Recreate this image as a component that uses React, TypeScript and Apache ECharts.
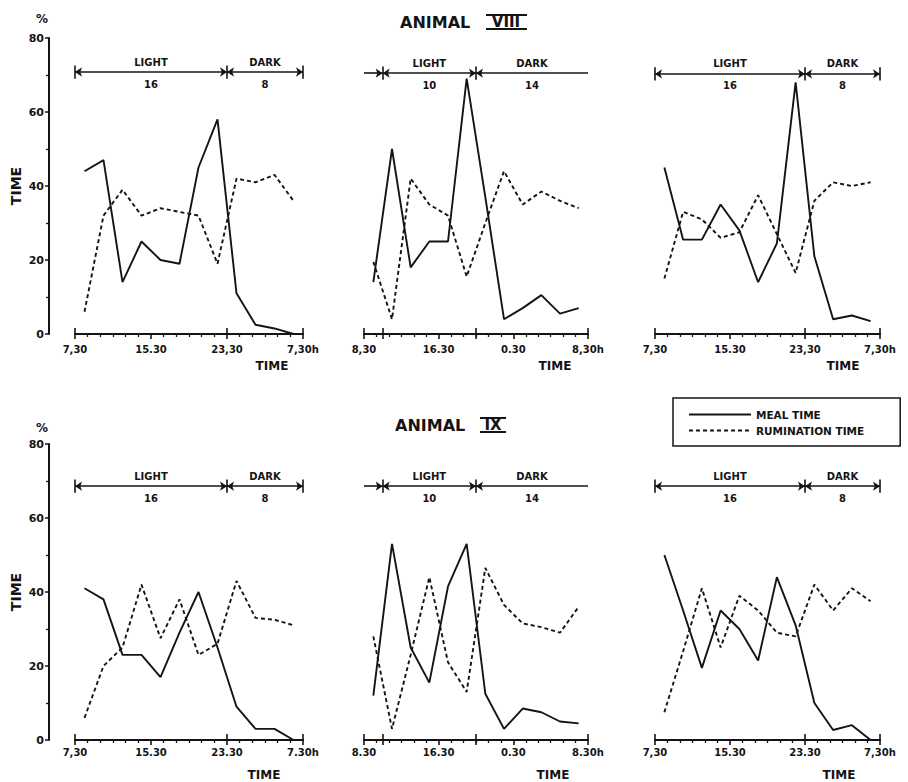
import React, { useEffect, useRef } from 'react';
import * as echarts from 'echarts';

const INK = '#141414';
const FONT = 'DejaVu Sans';

// sampling hours after the start of each 24 h record (2 h bins)
const hours = [1, 3, 5, 7, 9, 11, 13, 15, 17, 19, 21, 23];

// ANIMAL VIII
const mealVIII_A = [44, 47, 14, 25, 20, 19, 45, 58, 11, 2.5, 1.5, 0];
const rumVIII_A = [6, 32, 39, 32, 34, 33, 32, 19, 42, 41, 43, 36];
const mealVIII_B = [14, 50, 18, 25, 25, 69, 37, 4, 7, 10.5, 5.5, 7];
const rumVIII_B = [19.5, 4, 42, 35, 32, 15.5, 30, 44, 35, 38.5, 36, 34];
const mealVIII_C = [45, 25.5, 25.5, 35, 28, 14, 24.5, 68, 21, 4, 5, 3.5];
const rumVIII_C = [15, 33, 31, 26, 27.5, 37.5, 27, 16.5, 36, 41, 40, 41];

// ANIMAL IX
const mealIX_A = [41, 38, 23, 23, 17, 29, 40, 25, 9, 3, 3, 0];
const rumIX_A = [6, 20, 25, 42, 27.5, 38, 23, 26, 43, 33, 32.5, 31];
const mealIX_B = [12, 53, 25, 15.5, 41.5, 53, 12.5, 3, 8.5, 7.5, 5, 4.5];
const rumIX_B = [28, 3, 23, 44, 21, 13, 46.5, 36.5, 31.5, 30.5, 29, 36];
const mealIX_C = [50, 35, 19.5, 35, 30, 21.5, 44, 31, 10, 2.7, 4, 0];
const rumIX_C = [7.5, 24, 41, 25, 39, 35, 29, 28, 42, 35, 41, 37.5];

// tick labels (0, 8, 16, 24 h)
const ticksVIII_A = ['7,30', '15.30', '23,30', '7,30h'];
const ticksVIII_B = ['8,30', '16.30', '0.30', '8,30h'];
const ticksVIII_C = ['7,30', '15.30', '23,30', '7,30h'];
const ticksIX_A = ['7,30', '15.30', '23.30', '7.30h'];
const ticksIX_B = ['8.30', '16.30', '0.30', '8.30h'];
const ticksIX_C = ['7,30', '15.30', '23.30', '7,30h'];

// light / dark schedules
const bounds16_8 = [0, 16, 24];
const names16_8 = ['LIGHT', 'DARK'];
const lengths16_8 = ['16', '8'];
const arrows16_8 = [['arrow', 'arrow'], ['arrow', 'arrow']];
const brackets16_8 = [0, 16, 24];

const bounds10_14 = [0, 2, 12, 24];
const names10_14 = ['', 'LIGHT', 'DARK'];
const lengths10_14 = ['', '10', '14'];
const arrows10_14 = [['none', 'arrow'], ['arrow', 'arrow'], ['arrow', 'none']];
const brackets10_14 = [2, 12];

const schedA = { bounds: bounds16_8, names: names16_8, lengths: lengths16_8, arrows: arrows16_8, brackets: brackets16_8, axisMarks: [0, 16, 24] };
const schedB = { bounds: bounds10_14, names: names10_14, lengths: lengths10_14, arrows: arrows10_14, brackets: brackets10_14, axisMarks: [0, 2, 12, 24] };

const panels = [
  { row: 0, col: 0, meal: mealVIII_A, rum: rumVIII_A, ticks: ticksVIII_A, sched: schedA, barY: 70.8 },
  { row: 0, col: 1, meal: mealVIII_B, rum: rumVIII_B, ticks: ticksVIII_B, sched: schedB, barY: 70.5 },
  { row: 0, col: 2, meal: mealVIII_C, rum: rumVIII_C, ticks: ticksVIII_C, sched: schedA, barY: 70.3 },
  { row: 1, col: 0, meal: mealIX_A, rum: rumIX_A, ticks: ticksIX_A, sched: schedA, barY: 68.6 },
  { row: 1, col: 1, meal: mealIX_B, rum: rumIX_B, ticks: ticksIX_B, sched: schedB, barY: 68.6 },
  { row: 1, col: 2, meal: mealIX_C, rum: rumIX_C, ticks: ticksIX_C, sched: schedA, barY: 68.6 },
];

const colLeft = [75, 364, 655];
const colWidth = [228, 224, 225];
const rowTop = [38, 444];
const plotHeight = 296;

function buildOption() {
  const grid = panels.map((p) => ({
    left: colLeft[p.col],
    top: rowTop[p.row],
    width: colWidth[p.col],
    height: plotHeight,
  }));

  const xAxis = panels.map((p, i) => ({
    type: 'value',
    gridIndex: i,
    min: 0,
    max: 24,
    interval: 8,
    axisLine: { show: true, onZero: false, lineStyle: { color: INK, width: 2 } },
    axisTick: {
      show: true,
      customValues: Array.from(new Set([0, 8, 16, 24, ...p.sched.axisMarks])).sort((a, b) => a - b),
      length: 5,
      lineStyle: { color: INK, width: 1.6 },
    },
    minorTick: { show: true, splitNumber: 6, length: 3, lineStyle: { color: INK, width: 1.3 } },
    splitLine: { show: false },
    minorSplitLine: { show: false },
    axisLabel: {
      color: INK,
      fontFamily: FONT,
      fontWeight: 'bold',
      fontSize: 10,
      margin: p.row === 0 ? 10 : 7,
      showMinLabel: true,
      showMaxLabel: true,
      formatter: (v: number) => p.ticks[Math.round(v / 8)] ?? '',
    },
  }));

  const yAxis = panels.map((p, i) => ({
    type: 'value',
    gridIndex: i,
    min: 0,
    max: 80,
    interval: 20,
    show: p.col === 0,
    offset: 26,
    axisLine: { show: true, onZero: false, lineStyle: { color: INK, width: 2 } },
    axisTick: { show: true, length: 4, lineStyle: { color: INK, width: 1.5 } },
    minorTick: { show: true, splitNumber: 2, length: 3, lineStyle: { color: INK, width: 1.3 } },
    splitLine: { show: false },
    minorSplitLine: { show: false },
    axisLabel: { color: INK, fontFamily: FONT, fontWeight: 'bold', fontSize: 11, margin: 5 },
    name: 'TIME',
    nameLocation: 'middle',
    nameRotate: 90,
    nameGap: 26,
    nameTextStyle: { color: INK, fontFamily: FONT, fontWeight: 'bold', fontSize: 14 },
  }));

  const series: any[] = [];
  panels.forEach((p, i) => {
    const s = p.sched;
    const lines: any[] = [];
    for (let k = 0; k < s.bounds.length - 1; k++) {
      lines.push([
        { coord: [s.bounds[k], p.barY], symbol: s.arrows[k][0] },
        { coord: [s.bounds[k + 1], p.barY], symbol: s.arrows[k][1] },
      ]);
    }
    s.brackets.forEach((b) => {
      lines.push([
        { coord: [b, p.barY - 1.8], symbol: 'none' },
        { coord: [b, p.barY + 1.8], symbol: 'none' },
      ]);
    });
    s.axisMarks.forEach((b) => {
      lines.push([
        { coord: [b, 0], symbol: 'none' },
        { coord: [b, 1.6], symbol: 'none' },
      ]);
    });
    const points: any[] = [];
    for (let k = 0; k < s.bounds.length - 1; k++) {
      if (!s.names[k]) continue;
      const mid = (s.bounds[k] + s.bounds[k + 1]) / 2;
      points.push({ coord: [mid, p.barY], value: s.names[k], label: { formatter: s.names[k], offset: [0, -10] } });
      points.push({ coord: [mid, p.barY], value: s.lengths[k], label: { formatter: s.lengths[k], offset: [0, 12] } });
    }

    series.push({
      type: 'line',
      name: 'MEAL TIME',
      xAxisIndex: i,
      yAxisIndex: i,
      data: hours.map((h, k) => [h, p.meal[k]]),
      symbol: 'none',
      lineStyle: { color: INK, width: 1.9, type: 'solid' },
      itemStyle: { color: INK },
      markLine: {
        silent: true,
        symbolSize: 7,
        label: { show: false },
        lineStyle: { color: INK, width: 1.6, type: 'solid' },
        emphasis: { disabled: true },
        data: lines,
      },
      markPoint: {
        silent: true,
        symbol: 'circle',
        symbolSize: 1,
        itemStyle: { color: 'rgba(0,0,0,0)' },
        label: { show: true, color: INK, fontFamily: FONT, fontWeight: 'bold', fontSize: 10 },
        data: points,
      },
    });
    series.push({
      type: 'line',
      name: 'RUMINATION TIME',
      xAxisIndex: i,
      yAxisIndex: i,
      data: hours.map((h, k) => [h, p.rum[k]]),
      symbol: 'none',
      lineStyle: { color: INK, width: 1.9, type: [4, 3] },
      itemStyle: { color: INK },
    });
  });

  const txt = (text: string, x: number, y: number, size: number, align = 'center') => ({
    type: 'text',
    x,
    y,
    silent: true,
    style: { text, fill: INK, font: `bold ${size}px ${FONT}`, align, verticalAlign: 'middle' },
  });
  const ln = (x1: number, y1: number, x2: number, y2: number) => ({
    type: 'line',
    silent: true,
    shape: { x1, y1, x2, y2 },
    style: { stroke: INK, lineWidth: 2 },
  });

  const graphic = [
    txt('ANIMAL', 400, 22, 16, 'left'),
    txt('VIII', 506, 22, 15, 'center'),
    ln(486, 15, 527, 15),
    ln(486, 29, 527, 29),
    txt('ANIMAL', 395, 425, 16, 'left'),
    txt('IX', 493, 425, 15, 'center'),
    ln(480, 418, 506, 418),
    ln(480, 432, 506, 432),
    txt('%', 42, 19, 12),
    txt('%', 42, 428, 12),
    txt('TIME', 272, 366, 12),
    txt('TIME', 555, 366, 12),
    txt('TIME', 843, 366, 12),
    txt('TIME', 264, 775, 12),
    txt('TIME', 553, 775, 12),
    txt('TIME', 839, 775, 12),
  ];

  return {
    animation: false,
    backgroundColor: '#ffffff',
    grid,
    xAxis,
    yAxis,
    series,
    graphic,
    legend: {
      show: true,
      left: 673,
      top: 398,
      orient: 'vertical',
      selectedMode: false,
      itemWidth: 62,
      itemHeight: 11,
      itemGap: 5,
      padding: [11, 36, 10, 15],
      borderColor: INK,
      borderWidth: 1.5,
      borderRadius: 0,
      itemStyle: { opacity: 0 },
      textStyle: { color: INK, fontFamily: FONT, fontWeight: 'bold', fontSize: 10.5 },
      data: ['MEAL TIME', 'RUMINATION TIME'],
    },
  };
}

export default function App() {
  const ref = useRef<HTMLDivElement>(null);
  useEffect(() => {
    if (!ref.current) return;
    const chart = echarts.init(ref.current, undefined, { renderer: 'svg' });
    chart.setOption(buildOption() as any);
    return () => chart.dispose();
  }, []);
  return (
    <div
      ref={ref}
      style={{ position: 'fixed', left: 0, top: 0, width: 908, height: 782, background: '#fff' }}
    />
  );
}
